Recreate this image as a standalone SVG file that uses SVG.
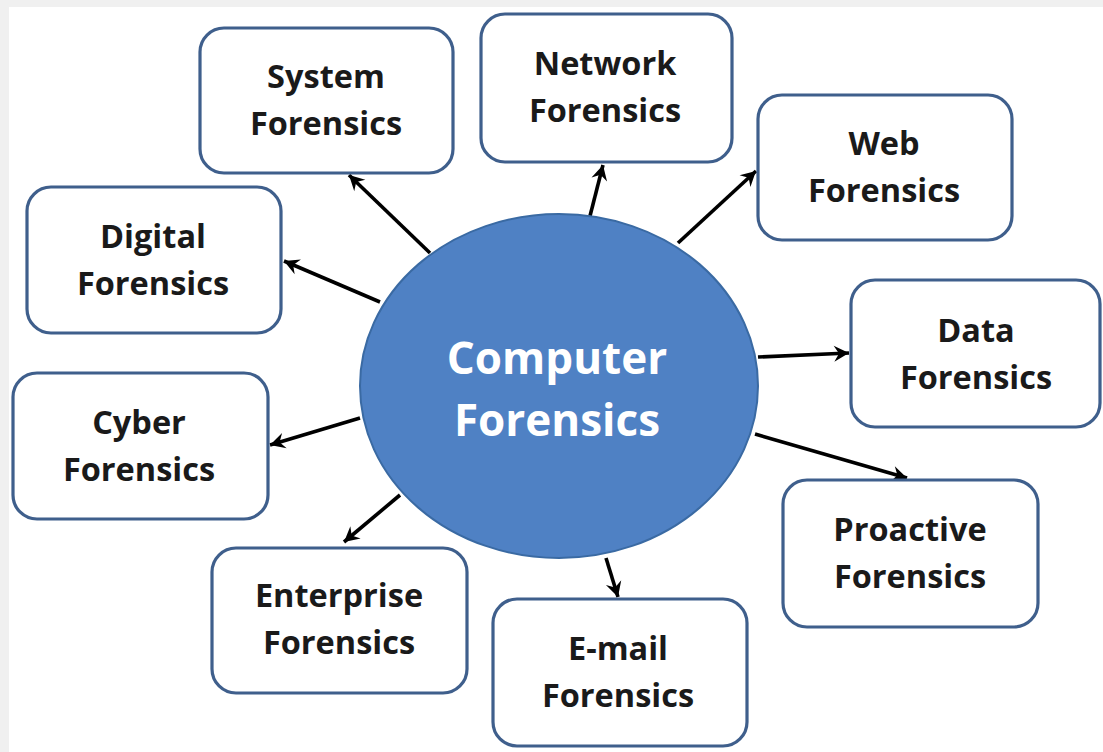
<svg xmlns="http://www.w3.org/2000/svg" width="1103" height="752" viewBox="0 0 1103 752">
<style>
.box{fill:#ffffff;stroke:#3f5f8c;stroke-width:3.2}
.lbl{font-family:"Open Sans","Liberation Sans",sans-serif;font-weight:bold;font-size:32.5px;fill:#1a1a1a;text-anchor:middle}
.ctr{font-family:"Open Sans","Liberation Sans",sans-serif;font-weight:bold;font-size:44px;fill:#ffffff;text-anchor:middle}
.conn{stroke:#000000;stroke-width:3.6;fill:none;marker-end:url(#ah)}
</style>
<defs>
<marker id="ah" viewBox="-16 -9 18 18" markerWidth="18" markerHeight="18" refX="0" refY="0" orient="auto" markerUnits="userSpaceOnUse">
<path d="M0,0 L-15,-8 L-10,0 L-15,8 Z" fill="#000000"/>
</marker>
</defs>
<rect x="0" y="0" width="1103" height="752" fill="#f0f0f0"/>
<rect x="9" y="7" width="1094" height="745" fill="#ffffff"/>
<g id="connectors">
<line class="conn" x1="430" y1="253" x2="349" y2="175"/>
<line class="conn" x1="590" y1="216" x2="603" y2="165"/>
<line class="conn" x1="678" y1="243" x2="756" y2="171"/>
<line class="conn" x1="380" y1="302" x2="284" y2="261"/>
<line class="conn" x1="758" y1="357" x2="849" y2="353"/>
<line class="conn" x1="360" y1="418" x2="270" y2="445"/>
<line class="conn" x1="755" y1="434" x2="907" y2="478"/>
<line class="conn" x1="400" y1="495" x2="344" y2="542"/>
<line class="conn" x1="606" y1="558" x2="618" y2="597"/>
</g>
<g id="center">
<ellipse cx="559" cy="386" rx="199" ry="172" fill="#4f81c4" stroke="#3a6aa3" stroke-width="2"/>
<text class="ctr" x="557" y="374">Computer</text>
<text class="ctr" x="557" y="436">Forensics</text>
</g>
<g id="system">
<rect class="box" x="200" y="28" width="253" height="145" rx="24"/>
<text class="lbl" x="326" y="88">System</text>
<text class="lbl" x="326" y="135">Forensics</text>
</g>
<g id="network">
<rect class="box" x="481" y="14" width="251" height="148" rx="24"/>
<text class="lbl" x="605" y="75">Network</text>
<text class="lbl" x="605" y="122">Forensics</text>
</g>
<g id="web">
<rect class="box" x="758" y="95" width="254" height="145" rx="24"/>
<text class="lbl" x="884" y="155">Web</text>
<text class="lbl" x="884" y="202">Forensics</text>
</g>
<g id="digital">
<rect class="box" x="27" y="187" width="254" height="146" rx="24"/>
<text class="lbl" x="153" y="248">Digital</text>
<text class="lbl" x="153" y="295">Forensics</text>
</g>
<g id="data">
<rect class="box" x="851" y="280" width="249" height="147" rx="24"/>
<text class="lbl" x="976" y="342">Data</text>
<text class="lbl" x="976" y="389">Forensics</text>
</g>
<g id="cyber">
<rect class="box" x="13" y="373" width="255" height="146" rx="24"/>
<text class="lbl" x="139" y="434">Cyber</text>
<text class="lbl" x="139" y="481">Forensics</text>
</g>
<g id="proactive">
<rect class="box" x="783" y="480" width="255" height="147" rx="24"/>
<text class="lbl" x="910" y="541">Proactive</text>
<text class="lbl" x="910" y="588">Forensics</text>
</g>
<g id="enterprise">
<rect class="box" x="212" y="548" width="255" height="145" rx="24"/>
<text class="lbl" x="339" y="607">Enterprise</text>
<text class="lbl" x="339" y="654">Forensics</text>
</g>
<g id="email">
<rect class="box" x="493" y="599" width="254" height="147" rx="24"/>
<text class="lbl" x="618" y="660">E-mail</text>
<text class="lbl" x="618" y="707">Forensics</text>
</g>
</svg>
